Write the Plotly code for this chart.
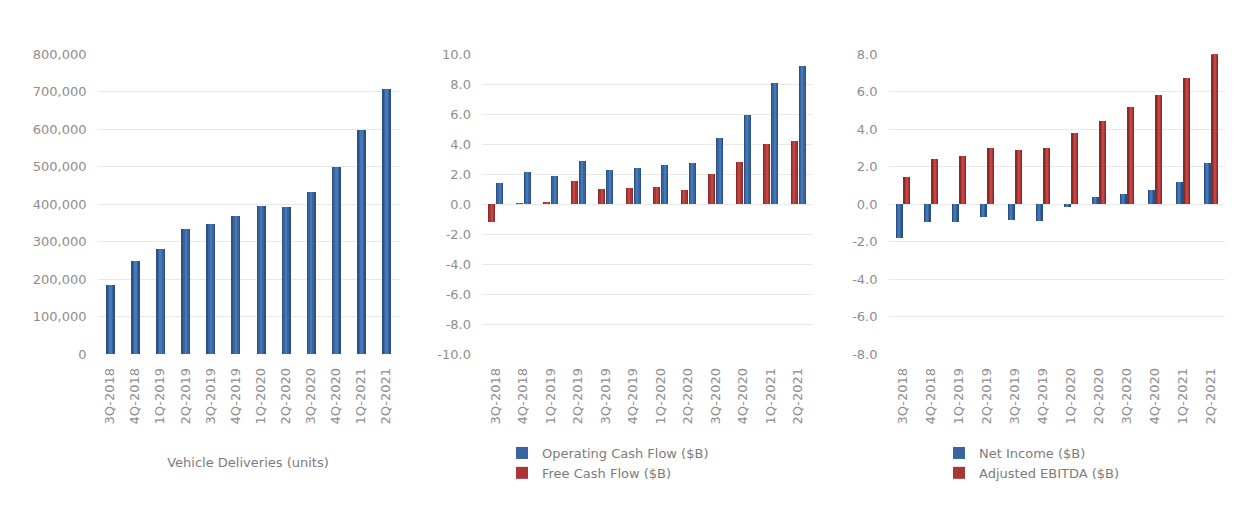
import plotly.graph_objects as go

quarters = ["3Q-2018", "4Q-2018", "1Q-2019", "2Q-2019", "3Q-2019", "4Q-2019",
            "1Q-2020", "2Q-2020", "3Q-2020", "4Q-2020", "1Q-2021", "2Q-2021"]

deliveries = [184000, 247000, 280000, 333000, 347000, 369000,
              396000, 391000, 433000, 500000, 598000, 708000]

operating_cf = [1.40, 2.13, 1.87, 2.84, 2.24, 2.42, 2.62, 2.73, 4.40, 5.93, 8.04, 9.20]
free_cf = [-1.22, 0.03, 0.16, 1.53, 0.98, 1.09, 1.16, 0.91, 1.98, 2.80, 4.00, 4.18]

net_income = [-1.83, -0.98, -0.98, -0.68, -0.85, -0.91, -0.18, 0.37, 0.55, 0.73, 1.17, 2.19]
adj_ebitda = [1.44, 2.42, 2.54, 2.99, 2.86, 2.99, 3.79, 4.44, 5.16, 5.81, 6.74, 8.0]

ticks_deliveries = [0, 100000, 200000, 300000, 400000, 500000, 600000, 700000, 800000]
labels_deliveries = ["0", "100,000", "200,000", "300,000", "400,000",
                     "500,000", "600,000", "700,000", "800,000"]
ticks_cash = [-10, -8, -6, -4, -2, 0, 2, 4, 6, 8, 10]
labels_cash = ["-10.0", "-8.0", "-6.0", "-4.0", "-2.0", "0.0",
               "2.0", "4.0", "6.0", "8.0", "10.0"]
ticks_income = [-8, -6, -4, -2, 0, 2, 4, 6, 8]
labels_income = ["-8.0", "-6.0", "-4.0", "-2.0", "0.0", "2.0", "4.0", "6.0", "8.0"]

# page body has an 8px margin; figure fits inside it
PAD = 8
W, H = 1254 - 2 * PAD, 519 - 2 * PAD
FONT = "DejaVu Sans"
GRAY = "#8e8e8e"
TEXT = "#7c7c7c"
GRID = "#e8e8e8"

BLUE_SHADES = ["#2c5284", "#3865a0", "#4578ba"]
RED_SHADES = ["#8c2a2a", "#ab3636", "#c44545"]
LAYER_FRAC = [1.0, 0.62, 0.28]


def px(sx):
    return (sx - PAD) / W


def py(sy):
    return (H - (sy - PAD)) / H


fig = go.Figure()


def add_series(x, y, xa, ya, left, width, shades, name, legend, rank):
    for i, (frac, col) in enumerate(zip(LAYER_FRAC, shades)):
        w = width * frac
        off = left + (width - w) / 2
        fig.add_trace(go.Bar(
            x=x, y=y, xaxis=xa, yaxis=ya,
            width=w, offset=off,
            marker=dict(color=col, line=dict(width=0)),
            name=name, legend=legend, legendrank=rank,
            showlegend=(i == 1 and name is not None),
            hoverinfo="x+y",
        ))


# Panel 1
add_series(quarters, deliveries, "x", "y", -0.18, 0.36, BLUE_SHADES, None, "legend", 1)
# Panel 2
add_series(quarters, free_cf, "x2", "y2", -0.28, 0.27, RED_SHADES, "Free Cash Flow ($B)", "legend", 2)
add_series(quarters, operating_cf, "x2", "y2", 0.01, 0.27, BLUE_SHADES, "Operating Cash Flow ($B)", "legend", 1)
# Panel 3
add_series(quarters, net_income, "x3", "y3", -0.265, 0.255, BLUE_SHADES, "Net Income ($B)", "legend2", 1)
add_series(quarters, adj_ebitda, "x3", "y3", 0.01, 0.255, RED_SHADES, "Adjusted EBITDA ($B)", "legend2", 2)

y_dom = [py(354.3), py(54.3)]
font = dict(family=FONT, size=13, color=GRAY)


def xaxis(dom, anchor, title=None):
    d = dict(
        domain=[px(dom[0]), px(dom[1])], anchor=anchor,
        type="category", tickangle=-90, showgrid=False, zeroline=False,
        showline=False, ticks="", ticklabelstandoff=10, automargin=False,
        tickfont=font, fixedrange=True,
    )
    if title:
        d["title"] = dict(text=title, font=dict(family=FONT, size=13, color=TEXT), standoff=34)
    return d


def yaxis(anchor, rng, tv, tt):
    return dict(
        domain=y_dom, anchor=anchor, range=rng, tickmode="array",
        tickvals=tv, ticktext=tt,
        showgrid=True, gridcolor=GRID, gridwidth=1, zeroline=False,
        showline=False, ticks="", ticklabelstandoff=10, tickfont=font,
        automargin=False, fixedrange=True,
    )


leg_y = py(438)
fig.update_layout(
    width=W, height=H,
    margin=dict(l=0, r=0, t=0, b=0),
    paper_bgcolor="white", plot_bgcolor="white",
    barmode="overlay", bargap=0,
    font=dict(family=FONT, color=GRAY),
    xaxis=xaxis((97.5, 398.5), "y", "Vehicle Deliveries (units)"),
    xaxis2=xaxis((482, 812), "y2"),
    xaxis3=xaxis((888.5, 1224.5), "y3"),
    yaxis=yaxis("x", [0, 800000], ticks_deliveries, labels_deliveries),
    yaxis2=yaxis("x2", [-10, 10], ticks_cash, labels_cash),
    yaxis3=yaxis("x3", [-8, 8], ticks_income, labels_income),
    legend=dict(x=px(502), y=leg_y, xanchor="left", yanchor="top",
                bgcolor="rgba(0,0,0,0)", font=dict(family=FONT, size=13, color=TEXT),
                tracegroupgap=0, itemwidth=30),
    legend2=dict(x=px(939), y=leg_y, xanchor="left", yanchor="top",
                 bgcolor="rgba(0,0,0,0)", font=dict(family=FONT, size=13, color=TEXT),
                 tracegroupgap=0, itemwidth=30),
)

fig.write_html("out.html")
